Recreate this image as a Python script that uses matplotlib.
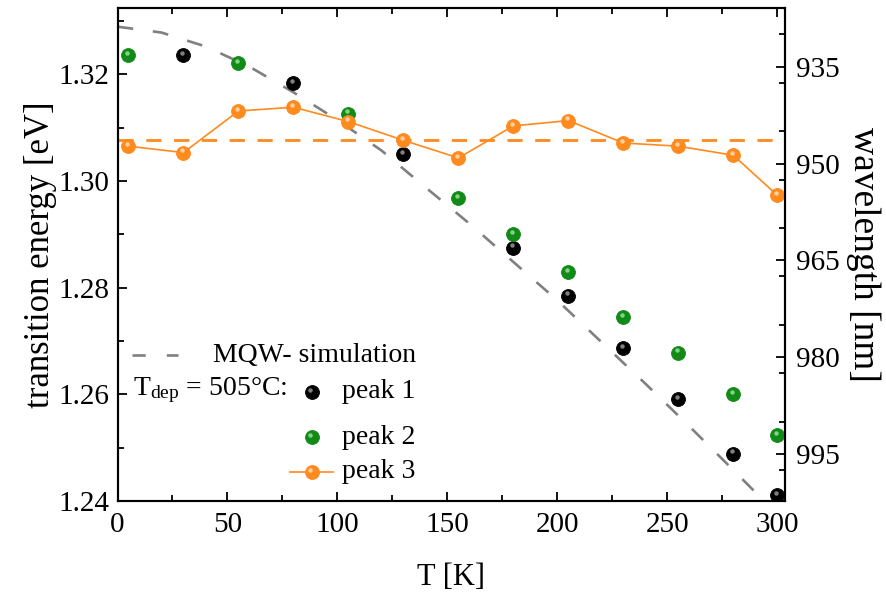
import matplotlib
matplotlib.use("Agg")
import matplotlib.pyplot as plt
from matplotlib.ticker import MultipleLocator, FormatStrFormatter, FixedLocator
from matplotlib.transforms import offset_copy
from matplotlib.lines import Line2D

plt.rcParams['font.family'] = ['Liberation Serif', 'DejaVu Serif']
plt.rcParams['mathtext.fontset'] = 'custom'
plt.rcParams['mathtext.rm'] = 'Liberation Serif'
plt.rcParams['mathtext.it'] = 'Liberation Serif:italic'

# ---- data ----
T_peak1 = [30, 80, 130, 180, 205, 230, 255, 280, 300]
E_peak1 = [1.3236, 1.3183, 1.3050, 1.2875, 1.2785, 1.2687, 1.2591, 1.2489, 1.2411]

T_peak2 = [5, 55, 105, 155, 180, 205, 230, 255, 280, 300]
E_peak2 = [1.3236, 1.3220, 1.3126, 1.2967, 1.2900, 1.2829, 1.2744, 1.2678, 1.2600, 1.2524]

T_peak3 = [5, 30, 55, 80, 105, 130, 155, 180, 205, 230, 255, 280, 300]
E_peak3 = [1.3065, 1.3053, 1.3131, 1.3138, 1.3111, 1.3076, 1.3043, 1.3103, 1.3113,
           1.3071, 1.3065, 1.3048, 1.2973]

E_peak3_mean = 1.3076

T_sim = [0, 20, 40, 60, 80, 100, 120, 140, 160, 180, 200, 220, 240, 260, 280, 300]
E_sim = [1.3289, 1.3278, 1.3252, 1.3214, 1.3166, 1.3114, 1.3057, 1.2988, 1.2920,
         1.2848, 1.2776, 1.2698, 1.2620, 1.2540, 1.2458, 1.2375]

x_ticks = [0, 50, 100, 150, 200, 250, 300]
y_ticks = [1.24, 1.26, 1.28, 1.30, 1.32]
wl_ticks = [935, 950, 965, 980, 995]

# ---- figure ----
W, H = 886, 592
fig = plt.figure(figsize=(W / 100, H / 100), dpi=100)
ax_l, ax_r, ax_b, ax_t = 117.5, 785, 501, 8
ax = fig.add_axes([ax_l / W, 1 - ax_b / H, (ax_r - ax_l) / W, (ax_b - ax_t) / H])

BLACK = '#000000'
GREEN = '#128a17'
ORANGE = '#ff8a1e'
GRAY = '#808080'

ax.plot(T_sim, E_sim, color=GRAY, lw=1.9, dashes=(6.0, 7.5), zorder=2)
ax.axhline(E_peak3_mean, color=ORANGE, lw=2.0, dashes=(5.5, 4.5), zorder=2)
ax.plot(T_peak3, E_peak3, color=ORANGE, lw=1.2, zorder=3)

hl = offset_copy(ax.transData, fig=fig, x=-1.8, y=2.2, units='dots')
MS = 10
for T, E, c, h in [(T_peak1, E_peak1, BLACK, '#8f8f8f'),
                   (T_peak2, E_peak2, GREEN, '#8fdc8f'),
                   (T_peak3, E_peak3, ORANGE, '#ffd9b0')]:
    ax.plot(T, E, ls='none', marker='o', ms=MS, mfc=c, mec=c, mew=0.6, zorder=4)
    ax.plot(T, E, ls='none', marker='o', ms=3.2, mfc=h, mec='none', alpha=0.9,
            zorder=5, transform=hl)

ax.set_xlim(0, 303.5)
ax.set_ylim(1.24, 1.3324)
ax.xaxis.set_major_locator(FixedLocator(x_ticks))
ax.xaxis.set_minor_locator(MultipleLocator(25))
ax.yaxis.set_major_locator(FixedLocator(y_ticks))
ax.yaxis.set_minor_locator(MultipleLocator(0.01))
ax.yaxis.set_major_formatter(FormatStrFormatter('%.2f'))
ax.tick_params(which='both', direction='in', top=True, right=False, width=1.3,
               labelsize=21, color='black')
ax.tick_params(which='major', length=6.5, pad=6)
ax.tick_params(which='minor', length=4.5)
ax.tick_params(axis='x', which='major', pad=8)
for s in ax.spines.values():
    s.set_linewidth(1.5)

ax.set_xlabel('T [K]', fontsize=22, labelpad=18)
ax.set_ylabel('transition energy [eV]', fontsize=25, labelpad=1)

ax2 = ax.twinx()
ax2.set_ylim(1002.3, 925.9)
ax2.yaxis.set_major_locator(FixedLocator(wl_ticks))
ax2.yaxis.set_minor_locator(MultipleLocator(7.5))
ax2.tick_params(which='both', direction='in', width=1.3, labelsize=21, pad=8)
ax2.tick_params(which='major', length=6.5)
ax2.tick_params(which='minor', length=4.5)
ax2.set_ylabel('wavelength [nm]', fontsize=27, rotation=270, labelpad=29)
for s in ax2.spines.values():
    s.set_linewidth(1.5)

# ---- legend (drawn by hand) ----
def fx(px):
    return (px - ax_l) / (ax_r - ax_l)

def fy(py):
    return (ax_b - py) / (ax_b - ax_t)

tA = ax.transAxes
ax.add_line(Line2D([fx(132), fx(178)], [fy(355), fy(355)], color=GRAY, lw=1.9,
                   dashes=(5.0, 8.0), transform=tA))
ax.text(fx(213), fy(355), 'MQW- simulation', transform=tA, fontsize=20,
        va='center', ha='left')
ax.text(fx(133), fy(390), r'T$_{\mathrm{dep}}$ = 505°C:', transform=tA, fontsize=20,
        va='center', ha='left')
leg_items = [(392, BLACK, '#8f8f8f', 'peak 1', False),
             (437, GREEN, '#8fdc8f', 'peak 2', False),
             (472, ORANGE, '#ffd9b0', 'peak 3', True)]
hlA = offset_copy(tA, fig=fig, x=-1.8, y=2.2, units='dots')
for py, c, h, lab, line in leg_items:
    if line:
        ax.add_line(Line2D([fx(290), fx(333)], [fy(py), fy(py)], color=ORANGE,
                           lw=1.2, transform=tA, zorder=4))
    ax.add_line(Line2D([fx(311.7)], [fy(py)], ls='none', marker='o', ms=MS, mfc=c,
                       mec=c, mew=0.6, transform=tA, zorder=5))
    ax.add_line(Line2D([fx(311.7)], [fy(py)], ls='none', marker='o', ms=3.2, mfc=h,
                       mec='none', alpha=0.9, transform=hlA, zorder=6))
    ax.text(fx(341.7), fy(py), lab, transform=tA, fontsize=20, va='center', ha='left')

fig.savefig('out.png', dpi=100)
